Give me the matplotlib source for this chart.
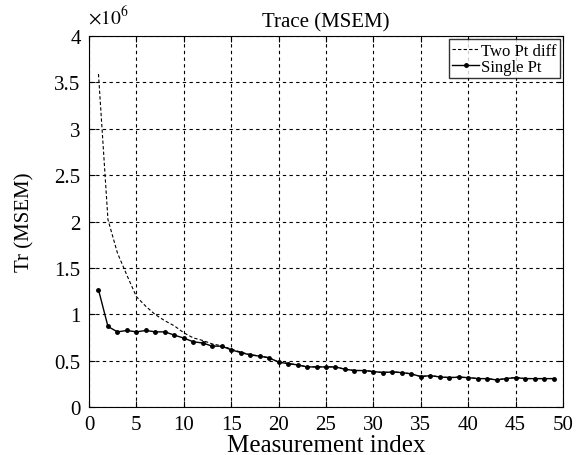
import matplotlib
matplotlib.use("Agg")
import matplotlib.pyplot as plt
import numpy as np

plt.rcParams['font.family'] = ['Liberation Serif', 'DejaVu Serif']
plt.rcParams['mathtext.fontset'] = 'stix'

idx = list(range(1, 50))
single_pt = [1.265, 0.868, 0.81, 0.825, 0.81, 0.825, 0.81, 0.81, 0.775, 0.743,
             0.703, 0.69, 0.656, 0.656, 0.616, 0.587, 0.562, 0.548, 0.53, 0.483,
             0.468, 0.454, 0.432, 0.432, 0.432, 0.432, 0.407, 0.393, 0.393, 0.382,
             0.371, 0.378, 0.371, 0.357, 0.328, 0.338, 0.324, 0.317, 0.321, 0.317,
             0.306, 0.306, 0.292, 0.306, 0.317, 0.306, 0.306, 0.306, 0.306]
two_pt = [3.59, 2.02, 1.66, 1.42, 1.19, 1.085, 0.995, 0.93, 0.875, 0.80,
          0.745, 0.717, 0.68, 0.66, 0.625, 0.592, 0.565, 0.55, 0.532, 0.485,
          0.47, 0.455, 0.433, 0.433, 0.433, 0.433, 0.408, 0.394, 0.394, 0.383,
          0.372, 0.379, 0.372, 0.358, 0.329, 0.339, 0.325, 0.318, 0.322, 0.318,
          0.307, 0.307, 0.293, 0.307, 0.318, 0.307, 0.307, 0.307, 0.307]

scale = 1e6
fig = plt.figure(figsize=(5.79, 4.56), dpi=100)
ax = fig.add_axes([89 / 579, 1 - 408 / 456, (563 - 89) / 579, (408 - 37) / 456])
ax.plot(idx, np.array(two_pt) * scale, 'k--', lw=0.8, dashes=(3, 2), label='Two Pt diff')
ax.plot(idx, np.array(single_pt) * scale, 'k-', lw=1.0, marker='o', ms=2.5, label='Single Pt')
ax.set_xlim(0, 50)
ax.set_ylim(0, 4e6)
ax.set_xticks(np.arange(0, 51, 5))
ax.set_yticks(np.arange(0, 4.01e6, 0.5e6))
ax.set_yticklabels(['0', '0.5', '1', '1.5', '2', '2.5', '3', '3.5', '4'])
ax.grid(True, color='k', linestyle=(0, (3, 3)), lw=0.8)
ax.tick_params(direction='in', labelsize=15, top=True, right=True, length=4, pad=6)
for s in ax.spines.values():
    s.set_linewidth(0.8)
fig.text(326 / 579, 1 - 452 / 456, 'Measurement index', fontsize=18,
         ha='center', va='baseline')
ax.set_ylabel('Tr (MSEM)', fontsize=15, labelpad=14)
ax.set_title('Trace (MSEM)', fontsize=15, pad=7)
fig.text(88 / 579, 1 - 17 / 456, r'$\times 10^6$', fontsize=14, va='center', ha='left')
leg = ax.legend(loc='upper right', fontsize=12, handlelength=1.6, frameon=True,
                fancybox=False, edgecolor='k', borderpad=0.2, labelspacing=0.0,
                handletextpad=0.1, borderaxespad=0.2)
leg.get_frame().set_linewidth(1.0)
fig.savefig('out.png', dpi=100)
